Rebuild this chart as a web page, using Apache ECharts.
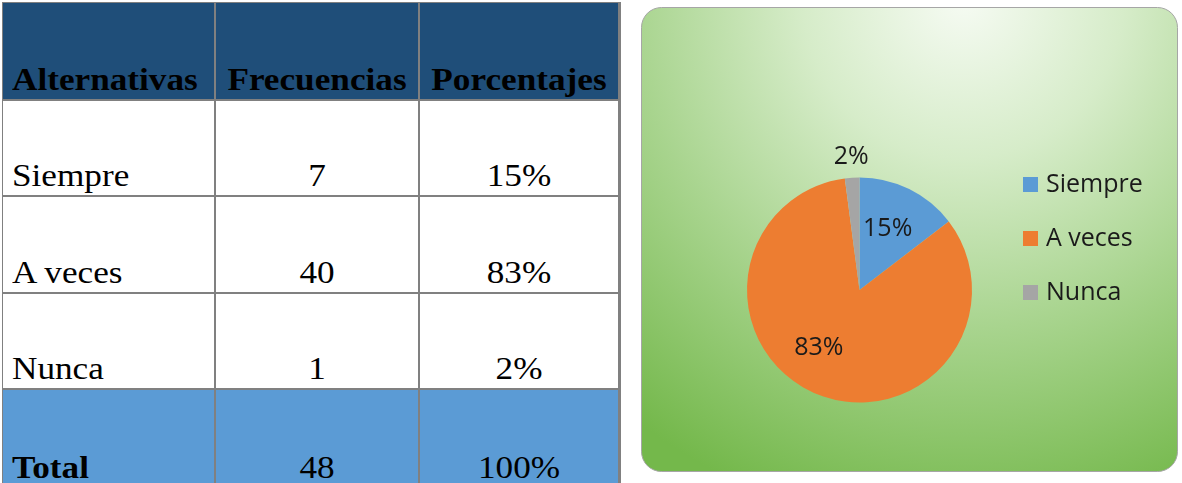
<!DOCTYPE html>
<html>
<head>
<meta charset="utf-8">
<script src="https://cdn.jsdelivr.net/npm/echarts@6/dist/echarts.min.js"></script>
<style>
  html, body { margin:0; padding:0; background:#ffffff; }
  #wrap { position:relative; width:1182px; height:483px; overflow:hidden; }
  #chart { position:absolute; left:0; top:0; width:1182px; height:483px; }
  #tbl { position:absolute; left:2px; top:2px; width:619px; height:486px; background:#808080; }
  .cell { position:absolute; overflow:hidden; }
  .txt { position:absolute; bottom:4px; font-family:"Liberation Serif","Times New Roman",serif; font-size:32px; line-height:32px; color:#000; white-space:nowrap; }
  .l { left:9px; transform:scaleX(1.1); transform-origin:left bottom; }
  .c { left:0; right:0; text-align:center; transform:scaleX(1.1); transform-origin:center bottom; }
  .b { font-weight:bold; }
</style>
</head>
<body>
<div id="wrap">
  <div id="chart"></div>
  <div id="tbl"></div>
</div>
<script>
// ---- data ----
const headers = ['Alternativas', 'Frecuencias', 'Porcentajes'];
const categories = ['Siempre', 'A veces', 'Nunca'];
const frequencies = [7, 40, 1];
const percentages = ['15%', '83%', '2%'];
const totalLabel = 'Total';
const totalFrequency = 48;
const totalPercentage = '100%';
const pieColors = ['#5B9BD5', '#ED7D31', '#A5A5A5'];

// ---- table (HTML) ----
const colEdges = [0, 213, 417, 617];
const rowEdges = [0, 98, 194, 291, 387, 486];
const rows = [
  { cells: headers, bg: '#1F4E79', bold: [true, true, true] }
];
categories.forEach((c, i) => rows.push({ cells: [c, String(frequencies[i]), percentages[i]], bg: '#FFFFFF', bold: [false, false, false] }));
rows.push({ cells: [totalLabel, String(totalFrequency), totalPercentage], bg: '#5B9BD5', bold: [true, false, false] });

const tbl = document.getElementById('tbl');
rows.forEach((row, r) => {
  row.cells.forEach((txt, c) => {
    const cell = document.createElement('div');
    cell.className = 'cell';
    const x0 = colEdges[c], x1 = colEdges[c + 1];
    const y0 = rowEdges[r], y1 = rowEdges[r + 1];
    cell.style.left = (x0 + 1) + 'px';
    cell.style.top = (y0 + 1) + 'px';
    cell.style.width = (x1 - x0 - 2) + 'px';
    cell.style.height = (y1 - y0 - 2) + 'px';
    cell.style.background = row.bg;
    const s = document.createElement('span');
    s.className = 'txt ' + (c === 0 ? 'l' : 'c') + (row.bold[c] ? ' b' : '');
    s.textContent = txt;
    cell.appendChild(s);
    tbl.appendChild(cell);
  });
});

// ---- pie chart (ECharts) ----
const chart = echarts.init(document.getElementById('chart'), null, { renderer: 'canvas' });
const labelFont = { fontFamily: '"Open Sans", sans-serif', fontSize: 25, color: '#1a1a1a' };

const labelTweaks = [
  { position: 'inside', offset: [2, -8] },
  { position: 'inside', offset: [-18, 3] },
  { position: 'outside', offset: [23, 1] }
];

const pieData = categories.map((name, i) => ({
  name: name,
  value: frequencies[i],
  itemStyle: { color: pieColors[i] },
  label: labelTweaks[i],
  labelLine: { show: false, length: 22, length2: 0 }
}));

chart.setOption({
  animation: false,
  graphic: [{
    type: 'rect',
    left: 641, top: 7,
    silent: true,
    z: 0,
    shape: { width: 536, height: 464, r: 20 },
    style: {
      fill: new echarts.graphic.RadialGradient(0.6, -0.02, 1.15, [
        { offset: 0, color: '#f6fbf3' },
        { offset: 0.3, color: '#d6ecc9' },
        { offset: 0.62, color: '#a8d48e' },
        { offset: 1, color: '#74b84b' }
      ]),
      stroke: '#a6a6a6',
      lineWidth: 1
    }
  }],
  legend: {
    orient: 'vertical',
    left: 1023,
    top: 172,
    padding: 0,
    itemWidth: 15,
    itemHeight: 15,
    itemGap: 29,
    icon: 'rect',
    data: categories,
    textStyle: { fontFamily: '"Open Sans", sans-serif', fontSize: 25, lineHeight: 25, color: '#1a1a1a', padding: [0, 0, 0, 3] }
  },
  series: [{
    type: 'pie',
    center: [859.5, 290],
    radius: [0, 112.5],
    startAngle: 90,
    clockwise: true,
    avoidLabelOverlap: false,
    z: 2,
    label: Object.assign({ show: true, formatter: p => Math.round(p.percent) + '%' }, labelFont),
    labelLine: { show: false },
    emphasis: { disabled: true },
    data: pieData
  }]
});
</script>
</body>
</html>
